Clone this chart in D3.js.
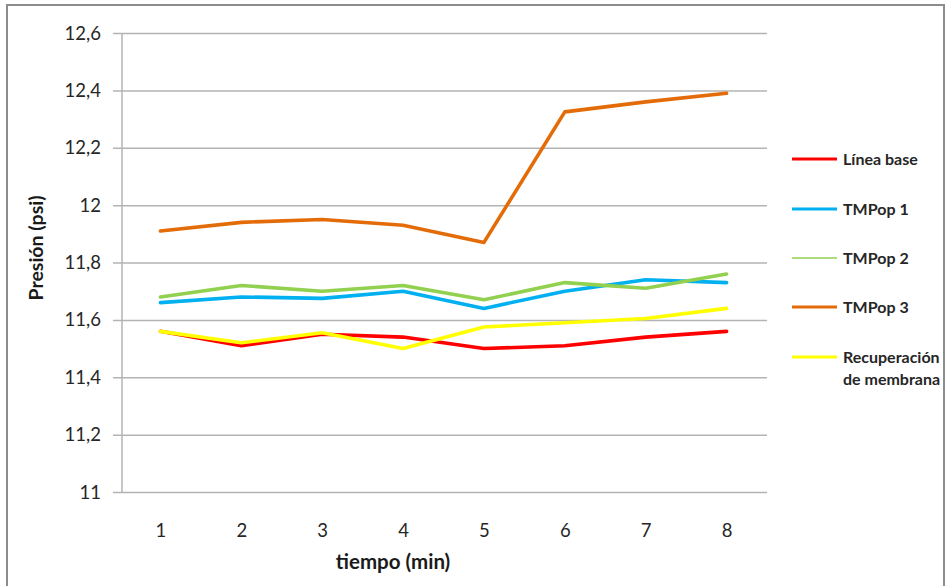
<!DOCTYPE html>
<html><head><meta charset="utf-8">
<script src="https://cdn.jsdelivr.net/npm/d3@7/dist/d3.min.js"></script>
<style>body{margin:0;background:#fff}svg{display:block}text{font-family:Lato,"Open Sans",sans-serif}</style>
</head><body>
<svg id="c" width="949" height="586"></svg>
<script>
const categories = [1,2,3,4,5,6,7,8];
const yTicks = [11,11.2,11.4,11.6,11.8,12,12.2,12.4,12.6];
const seriesNames = ["Línea base","TMPop 1","TMPop 2","TMPop 3","Recuperación de membrana"];
const lineaBase = [11.56,11.51,11.55,11.54,11.50,11.51,11.54,11.56];
const tmpop1 = [11.66,11.68,11.675,11.70,11.64,11.70,11.74,11.73];
const tmpop2 = [11.68,11.72,11.70,11.72,11.67,11.73,11.71,11.76];
const tmpop3 = [11.91,11.94,11.95,11.93,11.87,12.325,12.36,12.39];
const recuperacion = [11.56,11.52,11.555,11.50,11.575,11.59,11.605,11.64];
const colors = ["#ff0000","#00b0f0","#92d050","#e36c09","#ffff00"];

const series = [lineaBase,tmpop1,tmpop2,tmpop3,recuperacion];
const drawOrder = [3,1,2,0,4];

const svg = d3.select("#c");
const L=120, R=767, T=33, B=492;
svg.append("rect").attr("x",7).attr("y",5).attr("width",937).attr("height",600)
  .attr("fill","none").attr("stroke","#8c8c8c").attr("stroke-width",2);

const x = d3.scalePoint().domain(categories).range([L,R]).padding(0.5);
const y = d3.scaleLinear().domain([11,12.6]).range([B,T]);

const gy = svg.append("g").attr("transform",`translate(${L},0)`)
  .call(d3.axisLeft(y).tickValues(yTicks).tickSize(-(R-L)).tickSizeOuter(0)
    .tickFormat(d=>d3.format(".1f")(d).replace(".0","").replace(".",",")).tickPadding(19));
gy.select(".domain").remove();
gy.selectAll(".tick line").attr("stroke","#b3b3b3").attr("stroke-width",1.5).attr("x1",-7);
gy.selectAll(".tick text").attr("font-size",18.5).attr("fill","#262626").attr("dy","0.33em");

svg.append("line").attr("x1",L+2).attr("x2",L+2).attr("y1",T).attr("y2",B)
  .attr("stroke","#b3b3b3").attr("stroke-width",1.5);

const gx = svg.append("g").attr("transform",`translate(0,${B})`)
  .call(d3.axisBottom(x).tickSize(0).tickPadding(32));
gx.select(".domain").remove();
gx.selectAll(".tick text").attr("font-size",18.5).attr("fill","#262626");

const line = d3.line().x((d,i)=>x(categories[i])).y(d=>y(d));
drawOrder.forEach(k=>{
  svg.append("path").datum(series[k]).attr("d",line).attr("fill","none")
    .attr("stroke",colors[k]).attr("stroke-width",3.6).attr("stroke-linejoin","round").attr("stroke-linecap","round");
});

svg.append("text").attr("x",393).attr("y",569).attr("text-anchor","middle")
  .attr("font-size",20.5).attr("font-weight","bold").attr("fill","#1a1a1a").text("tiempo (min)");
svg.append("text").attr("transform","translate(43,248) rotate(-90)").attr("text-anchor","middle")
  .attr("font-size",19.5).attr("font-weight","bold").attr("fill","#1a1a1a").text("Presión (psi)");

const legY = [159,209,258,307,357];
seriesNames.forEach((n,i)=>{
  svg.append("line").attr("x1",792).attr("x2",837).attr("y1",legY[i]).attr("y2",legY[i])
    .attr("stroke",colors[i]).attr("stroke-width",i===2?1.5:3);
  const t = svg.append("text").attr("x",843).attr("y",legY[i]).attr("dy","0.35em")
    .attr("font-size",16).attr("font-weight","bold").attr("fill","#262626");
  if(i===4){
    t.append("tspan").attr("x",843).text("Recuperación");
    t.append("tspan").attr("x",843).attr("dy","1.4em").text("de membrana");
  } else t.text(n);
});
</script>
</body></html>
